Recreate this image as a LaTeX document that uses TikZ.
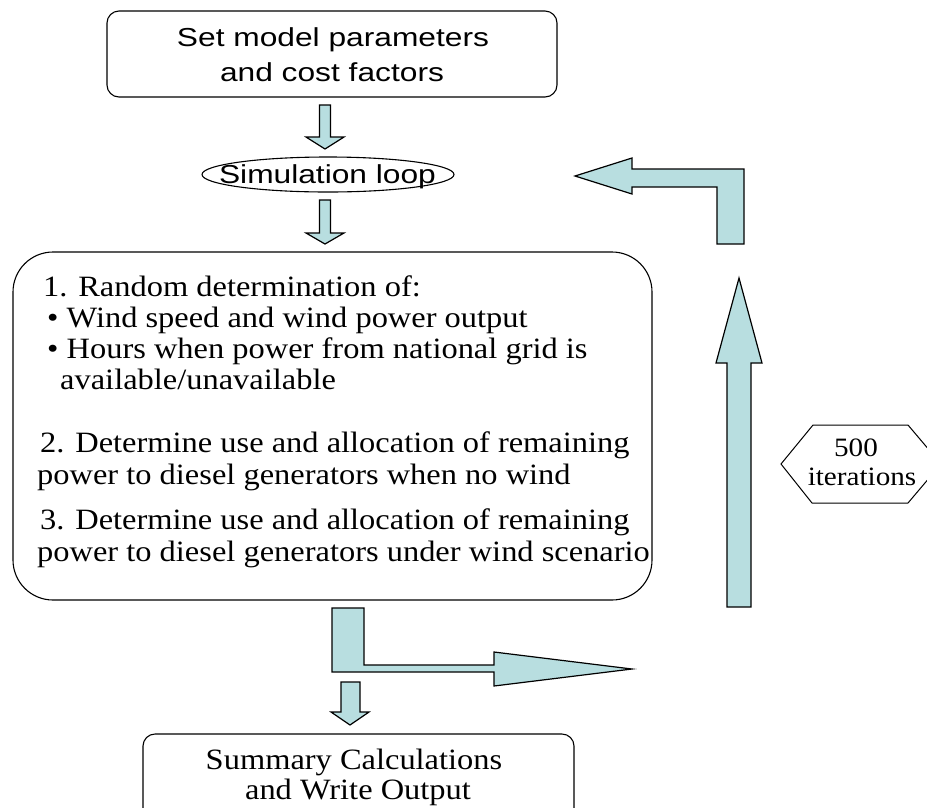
\documentclass[tikz,border=0pt]{standalone}
\usepackage{fontspec}
\setmainfont[FakeStretch=1.1]{Liberation Serif}
\newfontfamily\sansS[FakeStretch=1.22]{Liberation Sans}
\usetikzlibrary{shapes.geometric}
\definecolor{arrowfill}{HTML}{B8DEE0}
\begin{document}
\begin{tikzpicture}[x=1pt,y=-1pt,
  blockarrow/.style={fill=arrowfill, draw=black, line width=1.2pt, line join=miter},
  box/.style={draw=black, line width=1.1pt, rounded corners=12pt, inner sep=0pt},
  sanstext/.style={font=\sansS\fontsize{26}{30}\selectfont, inner sep=0pt},
  seriftext/.style={font=\fontsize{29.5}{33}\selectfont, inner sep=0pt},
  hextext/.style={font=\fontsize{26.5}{30}\selectfont, inner sep=0pt}]
\useasboundingbox (0,0) rectangle (927,807);
\clip (0,0) rectangle (927,807);

% top box
\node[box, minimum width=450pt, minimum height=86pt] (topbox) at (332,54) {};
\node[sanstext, anchor=base] (top1) at (333,46) {Set model parameters};
\node[sanstext, anchor=base] (top2) at (332,81) {and cost factors};

% arrow 1
\draw[blockarrow] (319.5,105) -- (330.5,105) -- (330.5,137) -- (344,137) -- (325,149)
  -- (306,137) -- (319.5,137) -- cycle;

% simulation loop
\node[ellipse, draw=black, line width=1.1pt, minimum width=252pt, minimum height=35pt,
  inner sep=0pt] (loop) at (328,174.5) {};
\node[sanstext, anchor=base] (looptext) at (327.5,183) {Simulation loop};

% arrow 2
\draw[blockarrow] (319.5,200) -- (330.5,200) -- (330.5,233) -- (344,233) -- (325,244)
  -- (306,233) -- (319.5,233) -- cycle;

% main box
\node[box, rounded corners=40pt, minimum width=639pt, minimum height=348pt] (mainbox) at (332.5,426) {};
\node[seriftext, anchor=base west] (m1) at (43,296) {1. Random determination of:};
\node[seriftext, anchor=base west] (m2) at (47,327) {• Wind speed and wind power output};
\node[seriftext, anchor=base west] (m3) at (47,358) {• Hours when power from national grid is};
\node[seriftext, anchor=base west] (m4) at (60,389) {available/unavailable};
\node[seriftext, anchor=base west] (m5) at (40,452) {2. Determine use and allocation of remaining};
\node[seriftext, anchor=base west] (m6) at (37,484) {power to diesel generators when no wind};
\node[seriftext, anchor=base west] (m7) at (40,529) {3. Determine use and allocation of remaining};
\node[seriftext, anchor=base west] (m8) at (37,561) {power to diesel generators under wind scenario};

% bent arrow to the right (from main box)
\draw[blockarrow] (332,608) -- (364,608) -- (364,665) -- (494,665) -- (494,652) -- (632,669)
  -- (494,686) -- (494,672) -- (332,672) -- cycle;

% arrow 3
\draw[blockarrow] (341,682) -- (360,682) -- (360,712) -- (369,712) -- (350,725)
  -- (331,712) -- (341,712) -- cycle;

% bottom box
\node[box, minimum width=431pt, minimum height=100pt] (botbox) at (358.5,784) {};
\node[seriftext, anchor=base] (b1) at (354,769) {Summary Calculations};
\node[seriftext, anchor=base] (b2) at (358,799) {and Write Output};

% up arrow
\draw[blockarrow] (727,607) -- (727,363) -- (716,363) -- (739,278) -- (762,363) -- (751,363)
  -- (751,607) -- cycle;

% bent arrow back to loop
\draw[blockarrow] (744,244) -- (744,169) -- (632,169) -- (632,158) -- (575,176) -- (632,194)
  -- (632,187) -- (717,187) -- (717,244) -- cycle;

% hexagon
\draw[line width=1pt] (781,464) -- (813,425) -- (908,425) -- (941,464) -- (908,503) -- (812,503) -- cycle;
\node[hextext, anchor=base] (h1) at (856,456) {500};
\node[hextext, anchor=base] (h2) at (862,485) {iterations};
\end{tikzpicture}
\end{document}
